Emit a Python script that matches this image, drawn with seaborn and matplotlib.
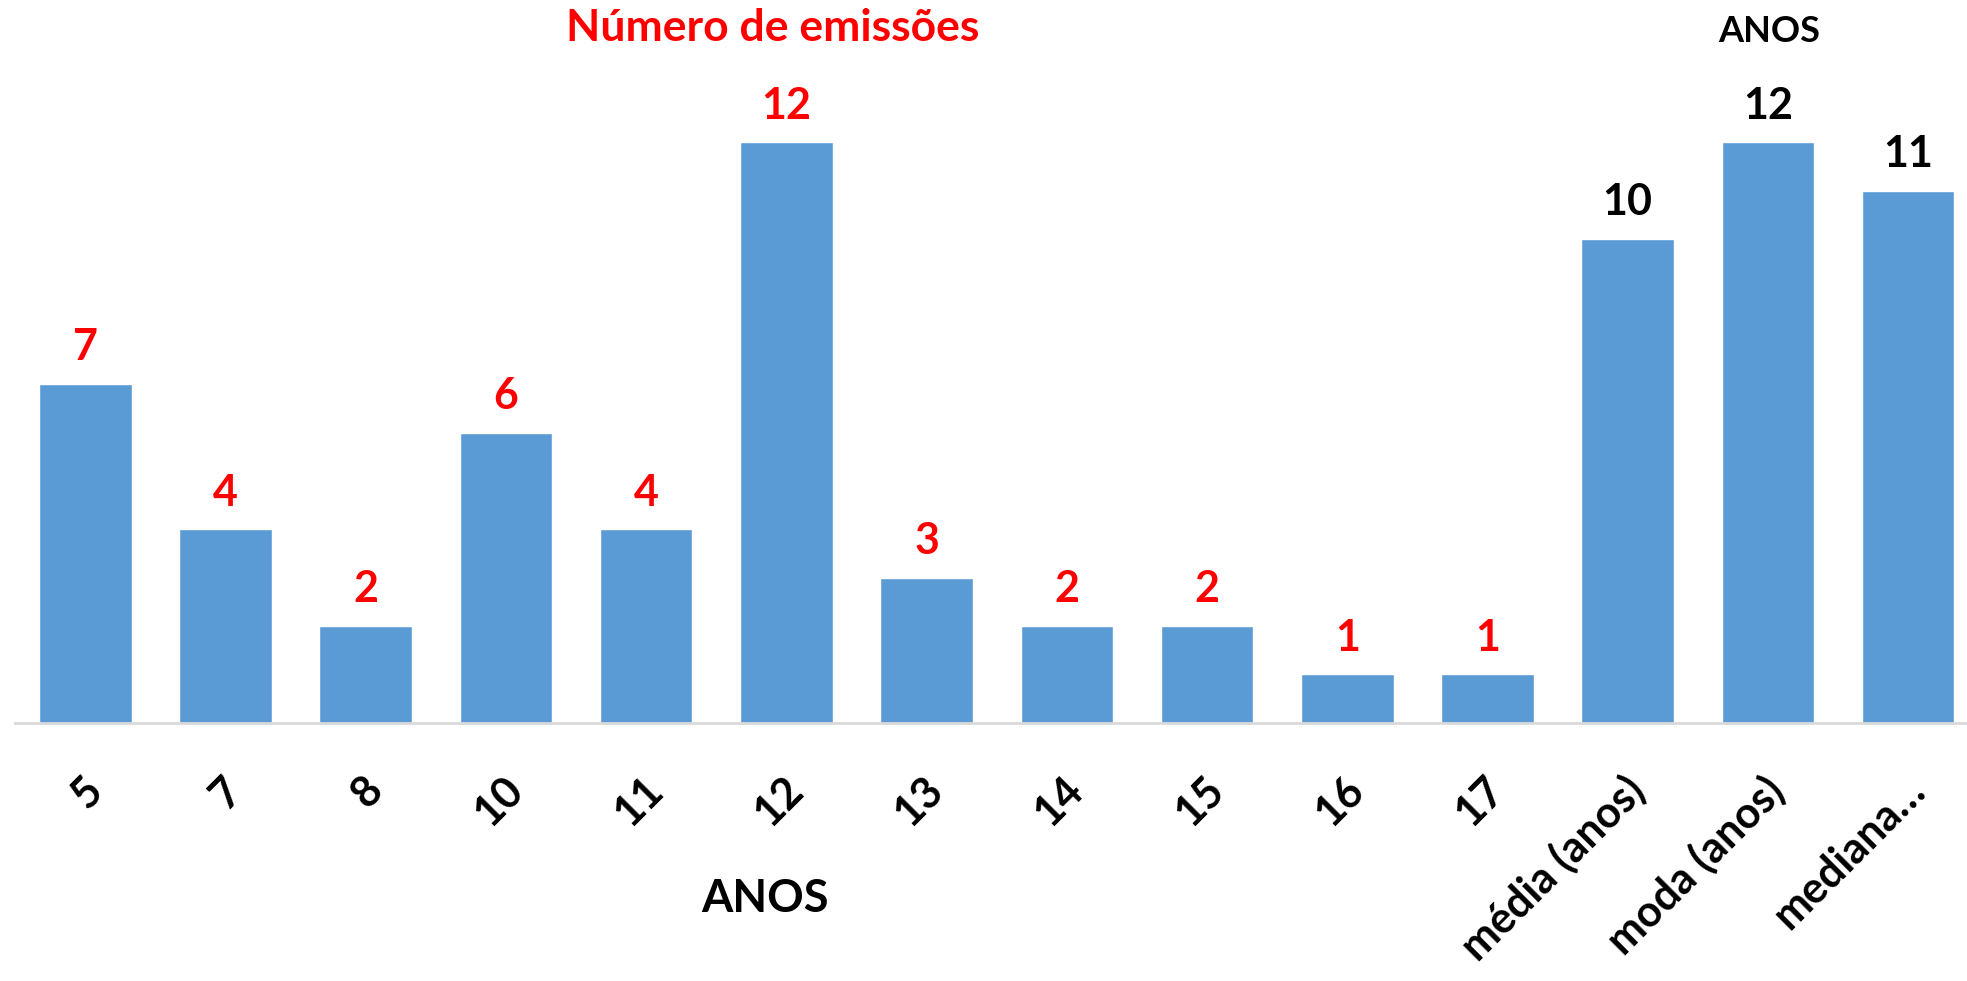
import matplotlib
matplotlib.use("Agg")
import matplotlib.pyplot as plt
import matplotlib.transforms as mtransforms
import seaborn as sns
import pandas as pd

# dados
categorias = ["5", "7", "8", "10", "11", "12", "13", "14", "15", "16", "17",
              "média (anos)", "moda (anos)", "mediana…"]
valores = [7, 4, 2, 6, 4, 12, 3, 2, 2, 1, 1, 10, 12, 11]
cores_rotulo = ["#FF0000"] * 11 + ["#000000"] * 3

BLUE = "#5B9BD5"

sns.set_style("white")
plt.rcParams["font.family"] = ["Lato", "DejaVu Sans"]
plt.rcParams["text.color"] = "black"
plt.rcParams["xtick.color"] = "black"

df = pd.DataFrame({"cat": categorias, "val": valores})

fig = plt.figure(figsize=(19.67, 9.81), dpi=100)
ax = fig.add_axes([15.2 / 1967, 0.2634, 1963 / 1967, 0.69])

sns.barplot(data=df, x="cat", y="val", color=BLUE, saturation=1,
            width=0.66, ax=ax)

ax.set_xlim(-0.5, len(categorias) - 0.5)
ax.set_ylim(0, 14)

# rótulos de valor
txts = ax.bar_label(ax.containers[0], labels=[str(v) for v in valores],
                    padding=12, fontsize=31, fontweight="bold")
for t, c in zip(txts, cores_rotulo):
    t.set_color(c)

# eixos
for s in ["top", "right", "left"]:
    ax.spines[s].set_visible(False)
ax.spines["bottom"].set_color("#D9D9D9")
ax.spines["bottom"].set_linewidth(2)
ax.set_yticks([])
ax.set_ylabel("")
ax.set_xlabel("")
ax.tick_params(axis="x", length=0, pad=44, labelcolor="black")
desloc = mtransforms.ScaledTranslation(0.10, 0, fig.dpi_scale_trans)
for lbl in ax.get_xticklabels():
    lbl.set_rotation(45)
    lbl.set_ha("right")
    lbl.set_va("center")
    lbl.set_rotation_mode("anchor")
    lbl.set_fontsize(31)
    lbl.set_fontweight("bold")
    lbl.set_color("black")
    lbl.set_transform(lbl.get_transform() + desloc)

ax.text(4.85, -3.65, "ANOS", ha="center", va="center", fontsize=32.5,
        fontweight="bold", color="black", transform=ax.transData)

fig.text(773 / 1967, 1 - 28 / 981, "Número de emissões", ha="center",
         va="center", fontsize=32, fontweight="bold", color="#FF0000")
fig.text(1769 / 1967, 1 - 31 / 981, "ANOS", ha="center", va="center",
         fontsize=26, fontweight="bold", color="#000000")

fig.savefig("out.png", dpi=100)
